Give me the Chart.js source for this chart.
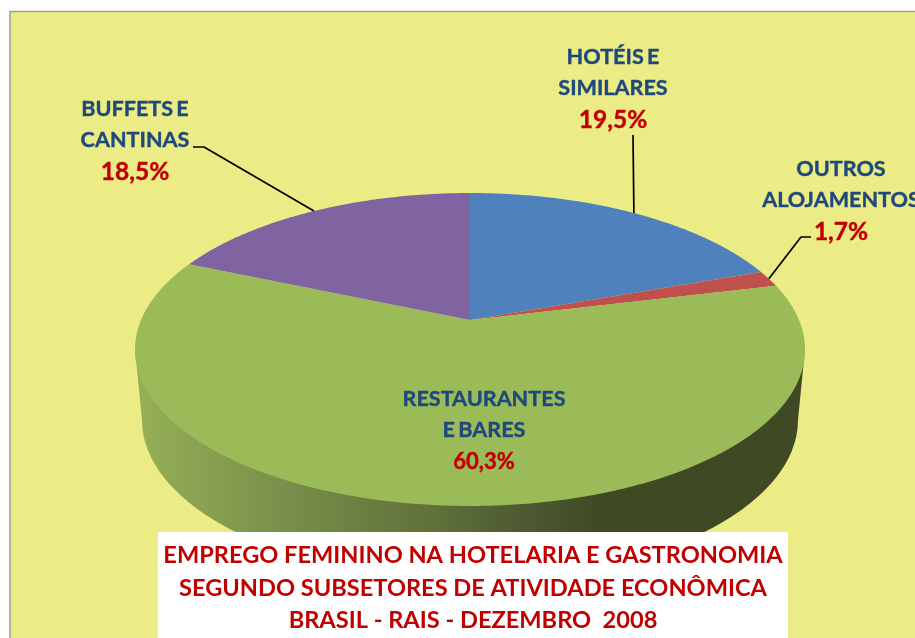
<!DOCTYPE html>
<html>
<head>
<meta charset="utf-8">
<title>Emprego feminino</title>
<style>
    html, body { margin: 0; padding: 0; background: #fff; overflow: hidden; }
    canvas { display: block; }
</style>
<script src="https://cdn.jsdelivr.net/npm/chart.js@4"></script>
</head>
<body>
<canvas id="pie" width="915" height="638"></canvas>
<script>
// Chart data
const categories = ['HOTÉIS E SIMILARES', 'OUTROS ALOJAMENTOS', 'RESTAURANTES E BARES', 'BUFFETS E CANTINAS'];
const shares = [19.5, 1.7, 60.3, 18.5];
const labelLines = [['HOTÉIS E', 'SIMILARES'], ['OUTROS', 'ALOJAMENTOS'], ['RESTAURANTES', 'E BARES'], ['BUFFETS E', 'CANTINAS']];
const sliceColors = ['#4f81bd', '#c0504d', '#9bbb59', '#8064a2'];
const titleLines = [
    'EMPREGO FEMININO NA HOTELARIA E GASTRONOMIA',
    'SEGUNDO SUBSETORES DE ATIVIDADE ECONÔMICA',
    'BRASIL - RAIS - DEZEMBRO  2008'
];

// Where each label block is centred, and the elbow of its leader line (null = no line)
const labelCentres = [[613, 88], [841, 200], [484, 430], [135, 140]];
const pctSizes = [24.5, 24.5, 22, 24.5];
const leaderElbows = [[633, 135], [801, 237], null, [204, 147]];
const leaderEnds = [[633, 135], [811, 237], null, [193, 147]];

const FONT = 'Lato, "Open Sans", sans-serif';

// Perspective tilt of the pie: arc angles from Chart.js are projected on the screen
const tilt = { cx: 470, cy: 320, a: 329, b: 150.9, k: 0.1885 };

function project(angle) {
    const u = Math.cos(angle), v = Math.sin(angle);
    const w = 1 - tilt.k * v;
    return [tilt.cx + tilt.a * u / w, tilt.cy + tilt.b * v / w];
}

function drawWall(ctx) {
    const grad = ctx.createLinearGradient(135, 0, 600, 0);
    grad.addColorStop(0, '#96b057');
    grad.addColorStop(0.35, '#778c49');
    grad.addColorStop(0.64, '#60713a');
    grad.addColorStop(0.86, '#4a5730');
    grad.addColorStop(1, '#3f4a25');
    ctx.fillStyle = grad;
    ctx.beginPath();
    ctx.moveTo(135, 349);
    ctx.lineTo(142, 420);
    ctx.ellipse(470, 420, 328, 160, 0, Math.PI, 0, true);
    ctx.lineTo(805, 349);
    ctx.closePath();
    ctx.fill();
}

const tiltedPie = {
    id: 'tiltedPie',
    // painted here so that the title layer lands on top of the white box
    beforeDraw(chart) {
        const ctx = chart.ctx;
        ctx.save();
        ctx.fillStyle = '#fff';
        ctx.fillRect(0, 0, chart.width, chart.height);
        ctx.fillStyle = '#ebec85';
        ctx.strokeStyle = '#9c9c9c';
        ctx.lineWidth = 1.5;
        ctx.fillRect(10, 11.5, chart.width, chart.height);
        ctx.strokeRect(10, 11.5, chart.width, chart.height);

        drawWall(ctx);

        chart.getDatasetMeta(0).data.forEach(function(arc) {
            const steps = Math.ceil((arc.endAngle - arc.startAngle) / 0.01);
            ctx.beginPath();
            ctx.moveTo(tilt.cx, tilt.cy);
            for (let i = 0; i <= steps; i++) {
                const p = project(arc.startAngle + (arc.endAngle - arc.startAngle) * i / steps);
                ctx.lineTo(p[0], p[1]);
            }
            ctx.closePath();
            ctx.fillStyle = arc.options.backgroundColor;
            ctx.fill();
        });

        // white box behind the title
        ctx.fillStyle = '#fff';
        ctx.fillRect(158, 532, 630, 106);
        ctx.restore();
    },
    // the arcs are already painted in their tilted form
    beforeDatasetDraw() {
        return false;
    },
    afterDraw(chart) {
        const ctx = chart.ctx;
        ctx.save();
        chart.getDatasetMeta(0).data.forEach(function(arc, i) {
            // leader line from the middle of the slice's rim
            if (leaderElbows[i]) {
                const rim = project((arc.startAngle + arc.endAngle) / 2);
                ctx.beginPath();
                ctx.moveTo(rim[0], rim[1]);
                ctx.lineTo(leaderElbows[i][0], leaderElbows[i][1]);
                ctx.lineTo(leaderEnds[i][0], leaderEnds[i][1]);
                ctx.strokeStyle = '#000';
                ctx.lineWidth = 1.7;
                ctx.stroke();
            }
            // name lines and percentage
            const x = labelCentres[i][0], y = labelCentres[i][1];
            ctx.textAlign = 'center';
            ctx.textBaseline = 'middle';
            ctx.lineJoin = 'round';
            ctx.lineWidth = 0.4;
            ctx.font = 'bold 21.6px ' + FONT;
            ctx.wordSpacing = '-2px';
            ctx.fillStyle = ctx.strokeStyle = '#1f497d';
            ctx.fillText(labelLines[i][0], x, y - 31);
            ctx.strokeText(labelLines[i][0], x, y - 31);
            ctx.fillText(labelLines[i][1], x, y + 0.5);
            ctx.strokeText(labelLines[i][1], x, y + 0.5);
            const pct = shares[i].toFixed(1).replace('.', ',') + '%';
            ctx.font = 'bold ' + pctSizes[i] + 'px ' + FONT;
            ctx.fillStyle = ctx.strokeStyle = '#c00000';
            ctx.fillText(pct, x, y + 32);
            ctx.strokeText(pct, x, y + 32);
        });
        ctx.restore();
    }
};

new Chart(document.getElementById('pie'), {
    type: 'pie',
    data: {
        labels: categories,
        datasets: [{
            data: shares,
            backgroundColor: sliceColors,
            borderWidth: 0
        }]
    },
    options: {
        responsive: false,
        animation: false,
        layout: { padding: { left: 31 } },
        plugins: {
            legend: { display: false },
            tooltip: { enabled: false },
            title: {
                display: true,
                position: 'bottom',
                text: titleLines,
                color: '#c00000',
                font: { family: FONT, size: 23.6, weight: 'bold', lineHeight: 1.38 },
                padding: { top: 0, bottom: 1 }
            }
        }
    },
    plugins: [tiltedPie]
});
</script>
</body>
</html>
